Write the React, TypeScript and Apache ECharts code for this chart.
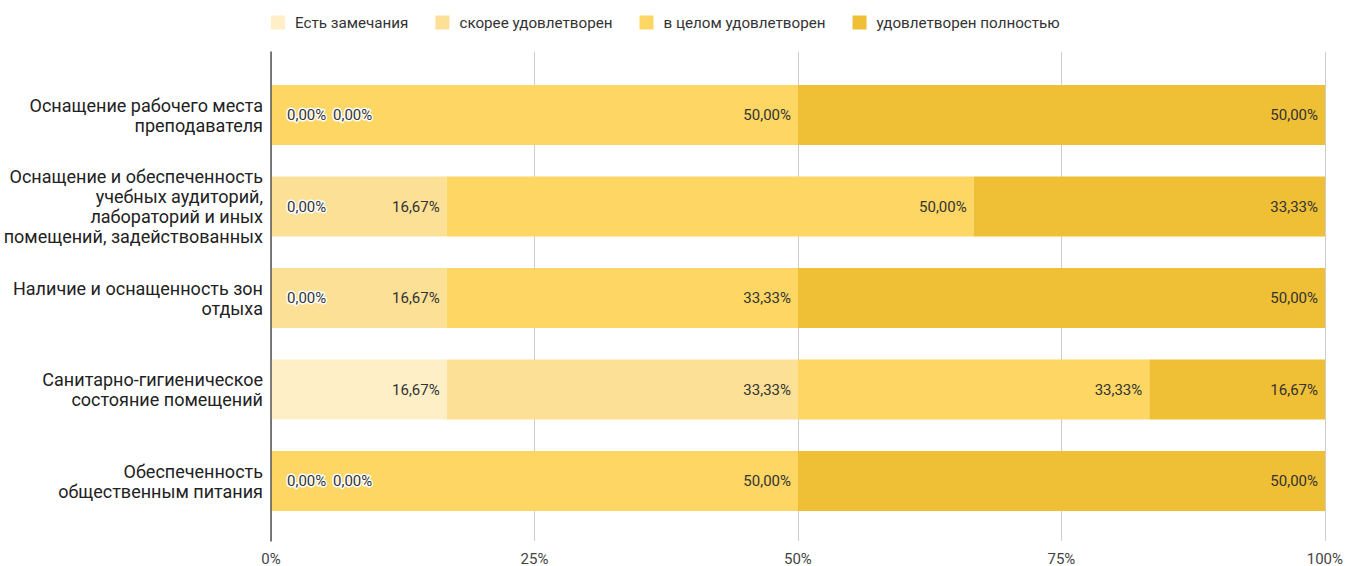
import React, { useEffect, useRef } from "react";
import * as echarts from "echarts";

const categories = [
  "Оснащение рабочего места\nпреподавателя",
  "Оснащение и обеспеченность\nучебных аудиторий,\nлабораторий и иных\nпомещений, задействованных",
  "Наличие и оснащенность зон\nотдыха",
  "Санитарно-гигиеническое\nсостояние помещений",
  "Обеспеченность\nобщественным питания",
];

const seriesNames = [
  "Есть замечания",
  "скорее удовлетворен",
  "в целом удовлетворен",
  "удовлетворен полностью",
];

const remarks = [0, 0, 0, 16.67, 0];
const ratherSatisfied = [0, 16.67, 16.67, 33.33, 0];
const generallySatisfied = [50, 50, 33.33, 33.33, 50];
const fullySatisfied = [50, 33.33, 50, 16.67, 50];

const xTicks = [0, 25, 50, 75, 100];

const colors = ["#FEEFC7", "#FCE096", "#FDD663", "#EFBF35"];

const fmt = (v: number) => v.toFixed(2).replace(".", ",") + "%";

export default function App() {
  const ref = useRef<HTMLDivElement>(null);
  useEffect(() => {
    if (!ref.current) return;
    const chart = echarts.init(ref.current, undefined, { renderer: "svg" });
    const allData = [remarks, ratherSatisfied, generallySatisfied, fullySatisfied];

    const series = allData.map((arr, si) => ({
      name: seriesNames[si],
      type: "bar",
      stack: "total",
      xAxisIndex: 0,
      yAxisIndex: 0,
      barWidth: 60,
      itemStyle: { color: colors[si] },
      label: {
        show: true,
        position: "insideRight",
        distance: 7,
        color: "#333",
        fontSize: 15,
        fontFamily: "Roboto",
        formatter: (p: any) => fmt(p.value),
      },
      data: arr.map((v, i) => {
        if (v !== 0) return { value: v };
        let prevZeros = 0;
        for (let k = 0; k < si; k++) if (allData[k][i] === 0) prevZeros++;
        return {
          value: v,
          label: {
            position: "right",
            distance: 16 + prevZeros * 46,
            textBorderColor: "#fff",
            textBorderWidth: 3,
          },
        };
      }),
    }));

    chart.setOption({
      animation: false,
      textStyle: { fontFamily: "Roboto" },
      legend: {
        left: 266,
        top: 10,
        itemWidth: 14,
        itemHeight: 14,
        itemGap: 27,
        icon: "rect",
        textStyle: {
          fontSize: 15.2,
          color: "#333",
          fontFamily: "Roboto",
          padding: [0, 0, 0, 5],
        },
        data: seriesNames,
      },
      grid: [
        { left: 271, right: 21, top: 69.25, bottom: 39.25 },
        { left: 271, right: 21, top: 52, bottom: 25 },
      ],
      xAxis: [
        { type: "value", gridIndex: 0, min: 0, max: 100, show: false },
        {
          type: "value",
          gridIndex: 1,
          min: 0,
          max: 100,
          interval: 25,
          data: xTicks,
          axisLine: { show: false },
          axisTick: { show: false },
          axisLabel: {
            formatter: "{value}%",
            fontSize: 15,
            color: "#444",
            margin: 10,
          },
          splitLine: { show: true, lineStyle: { color: "#ccc", width: 1 } },
        },
      ],
      yAxis: [
        {
          type: "category",
          gridIndex: 0,
          inverse: true,
          data: categories,
          axisLine: { show: false },
          axisTick: { show: false },
          axisLabel: {
            fontSize: 18,
            lineHeight: 20,
            color: "#222",
            margin: 8,
            align: "right",
            padding: [0, 0, 4, 0],
          },
        },
        {
          type: "value",
          gridIndex: 1,
          min: 0,
          max: 1,
          z: 5,
          axisLine: { show: true, lineStyle: { color: "#555", width: 1.5 } },
          axisTick: { show: false },
          axisLabel: { show: false },
          splitLine: { show: false },
        },
      ],
      series,
    });
    return () => chart.dispose();
  }, []);
  return (
    <div
      ref={ref}
      style={{ position: "fixed", left: 0, top: 0, width: 1346, height: 566, background: "#fff" }}
    />
  );
}
